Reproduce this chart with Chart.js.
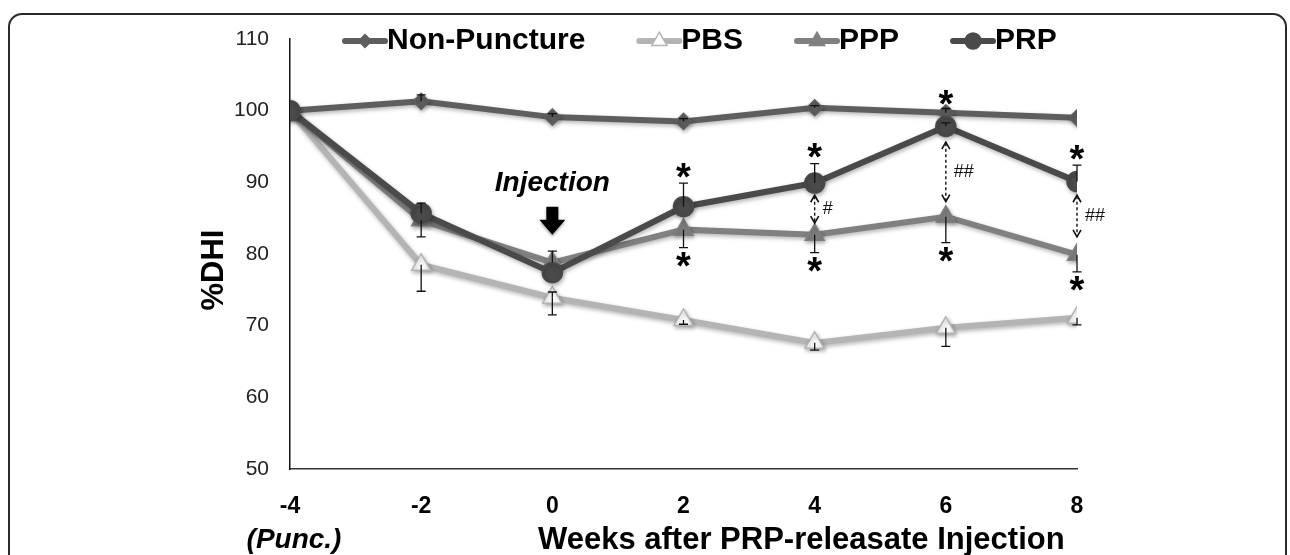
<html>

<head>
    <title>DHI</title>
    <script src="https://cdn.jsdelivr.net/npm/chart.js@4.4.1/dist/chart.umd.min.js"></script>
    <style>
        body { margin: 0; background: #fff; }
        #wrap { position: relative; width: 1290px; height: 555px; overflow: hidden; }
        #frame {
            position: absolute; left: 8px; top: 13px; width: 1279px; height: 620px;
            border: 2px solid #2a2a2a; border-radius: 14px; box-sizing: border-box;
        }
        #plotCanvas { position: absolute; left: 0; top: 0; }
    </style>
</head>

<body>
    <div id="wrap">
        <div id="frame"></div>
        <canvas id="plotCanvas" width="1290" height="555"></canvas>
    </div>
    <script>
        // ========= Data ==============================
        const weeks = [-4, -2, 0, 2, 4, 6, 8]
        const xTicks = [-4, -2, 0, 2, 4, 6, 8]
        const yTicks = [50, 60, 70, 80, 90, 100, 110]

        const nonPuncture = [100, 101.3, 99.1, 98.5, 100.4, 99.7, 99.0]
        const pbs = [100, 78.5, 73.9, 70.8, 67.6, 69.7, 71.1]
        const ppp = [100, 84.7, 78.8, 83.4, 82.7, 85.2, 79.9]
        const prp = [100, 85.7, 77.4, 86.6, 89.9, 97.8, 90.1]

        // error bars as [minus, plus]
        const nonPunctureErr = [[0, 0], [0, 0.9], [0, 0.5], [0, 0.4], [0, 0.3], [0, 0.6], [0, 0]]
        const pbsErr = [[0, 0], [3.7, 0], [2.4, 0.8], [0.6, 0], [1.0, 0], [2.6, 0], [1.0, 0]]
        const pppErr = [[0, 0], [2.3, 0], [0, 1.6], [2.5, 0], [2.5, 0], [3.6, 0], [2.4, 0]]
        const prpErr = [[0, 0], [0, 1.4], [0, 0], [0, 3.3], [0, 2.7], [0, 0.5], [0, 2.3]]

        // significance marks (week, %DHI)
        const starMarks = [
            [2, 91.7], [4, 94.5], [6, 101.8], [8, 94.2],
            [2, 79.2], [4, 78.5], [6, 79.9], [8, 75.9],
        ]
        const arrowWeeks = [4, 6, 8]
        const arrowTop = [88.2, 95.6, 88.2]
        const arrowBottom = [84.3, 87.3, 82.4]
        const arrowLabels = ['#', '##', '##']

        const injectionWeek = 0
        const injectionTextY = 89.9
        const injectionArrow = [86.6, 82.7]

        const seriesNames = ['Non-Puncture', 'PBS', 'PPP', 'PRP']
        const seriesColors = ['#5e5e5e', '#b4b4b4', '#808080', '#4a4a4a']

        const FONT = "'Liberation Sans', Arial, sans-serif"

        const toXY = ys => weeks.map((w, i) => ({ x: w, y: ys[i] }))

        // ========= Drawing helpers ==========

        function drawStar(ctx, x, y) {
            ctx.font = 'bold 38px ' + FONT
            ctx.textAlign = 'center'
            ctx.textBaseline = 'alphabetic'
            const m = ctx.measureText('*')
            const mid = (m.actualBoundingBoxAscent - m.actualBoundingBoxDescent) / 2
            ctx.fillText('*', x, y + mid)
        }

        function drawDashedArrow(ctx, x, y1, y2) {
            ctx.save()
            ctx.strokeStyle = '#111'
            ctx.lineWidth = 1.4
            ctx.setLineDash([3, 2.5])
            ctx.beginPath()
            ctx.moveTo(x, y1 + 1)
            ctx.lineTo(x, y2 - 1)
            ctx.stroke()
            ctx.setLineDash([])
            ctx.lineWidth = 1.6
            ctx.beginPath()
            ctx.moveTo(x - 4, y1 + 7); ctx.lineTo(x, y1); ctx.lineTo(x + 4, y1 + 7)
            ctx.moveTo(x - 4, y2 - 7); ctx.lineTo(x, y2); ctx.lineTo(x + 4, y2 - 7)
            ctx.stroke()
            ctx.restore()
        }

        function drawMarkerPath(ctx, style, r, x, y) {
            if (style === 'circle') {
                ctx.arc(x, y, r, 0, Math.PI * 2)
            } else if (style === 'rectRot') {
                ctx.moveTo(x, y - r); ctx.lineTo(x + r, y); ctx.lineTo(x, y + r); ctx.lineTo(x - r, y)
                ctx.closePath()
            } else {
                ctx.moveTo(x, y - r); ctx.lineTo(x + r * 0.866, y + r / 2); ctx.lineTo(x - r * 0.866, y + r / 2)
                ctx.closePath()
            }
        }

        const annotations = {
            id: 'annotations',
            beforeDatasetsDraw(chart) {
                const ctx = chart.ctx
                ctx.save()
                ctx.shadowColor = 'rgba(0,0,0,0.3)'
                ctx.shadowBlur = 4
                ctx.shadowOffsetX = 1
                ctx.shadowOffsetY = 2
            },
            afterDatasetsDraw(chart) {
                const ctx = chart.ctx
                ctx.restore()
                const xs = chart.scales.x
                const ys = chart.scales.y
                const errs = [nonPunctureErr, pbsErr, pppErr, prpErr]

                // error bars
                ctx.save()
                ctx.strokeStyle = '#111'
                ctx.lineWidth = 1.3
                chart.data.datasets.forEach((ds, i) => {
                    ds.data.forEach((p, j) => {
                        const [minus, plus] = errs[i][j]
                        const px = xs.getPixelForValue(p.x)
                        ;[[minus, -1], [plus, 1]].forEach(([e, s]) => {
                            if (!e) return
                            const y0 = ys.getPixelForValue(p.y)
                            const y1 = ys.getPixelForValue(p.y + s * e)
                            ctx.beginPath()
                            ctx.moveTo(px, y0); ctx.lineTo(px, y1)
                            ctx.moveTo(px - 4.5, y1); ctx.lineTo(px + 4.5, y1)
                            ctx.stroke()
                        })
                    })
                })
                ctx.restore()

                // stars
                ctx.save()
                ctx.fillStyle = '#000'
                starMarks.forEach(([w, v]) => drawStar(ctx, xs.getPixelForValue(w), ys.getPixelForValue(v)))
                ctx.restore()

                // dashed double arrows with # labels
                ctx.save()
                arrowWeeks.forEach((w, i) => {
                    const x = xs.getPixelForValue(w)
                    const y1 = ys.getPixelForValue(arrowTop[i])
                    const y2 = ys.getPixelForValue(arrowBottom[i])
                    drawDashedArrow(ctx, x, y1, y2)
                    ctx.fillStyle = '#111'
                    ctx.font = '18px ' + FONT
                    ctx.textAlign = 'left'
                    ctx.textBaseline = 'middle'
                    ctx.fillText(arrowLabels[i], x + 8, (y1 + y2) / 2)
                })
                ctx.restore()

                // injection label and arrow
                ctx.save()
                const ix = xs.getPixelForValue(injectionWeek)
                ctx.fillStyle = '#000'
                ctx.font = 'italic bold 28px ' + FONT
                ctx.textAlign = 'center'
                ctx.textBaseline = 'middle'
                ctx.fillText('Injection', ix, ys.getPixelForValue(injectionTextY))
                const a0 = ys.getPixelForValue(injectionArrow[0])
                const a1 = ys.getPixelForValue(injectionArrow[1])
                ctx.shadowColor = 'rgba(0,0,0,0.35)'
                ctx.shadowBlur = 3
                ctx.shadowOffsetY = 2
                ctx.beginPath()
                ctx.moveTo(ix - 6, a0)
                ctx.lineTo(ix + 6, a0)
                ctx.lineTo(ix + 6, a0 + 13)
                ctx.lineTo(ix + 13, a0 + 13)
                ctx.lineTo(ix, a1)
                ctx.lineTo(ix - 13, a0 + 13)
                ctx.lineTo(ix - 6, a0 + 13)
                ctx.closePath()
                ctx.fill()
                ctx.restore()
            },
            afterDraw(chart) {
                const ctx = chart.ctx
                ctx.save()
                ctx.fillStyle = '#000'

                // legend: line + marker + bold name
                ctx.font = 'bold 30px ' + FONT
                ctx.textBaseline = 'middle'
                ctx.textAlign = 'left'
                let lx = 342
                const ly = 41
                chart.data.datasets.forEach(ds => {
                    ctx.strokeStyle = ds.borderColor
                    ctx.lineWidth = 6
                    ctx.lineCap = 'round'
                    ctx.beginPath()
                    ctx.moveTo(lx + 3, ly); ctx.lineTo(lx + 43, ly)
                    ctx.stroke()
                    ctx.fillStyle = ds.pointBackgroundColor
                    ctx.strokeStyle = ds.pointBorderColor
                    ctx.lineWidth = ds.pointBorderWidth
                    ctx.beginPath()
                    drawMarkerPath(ctx, ds.pointStyle, ds.pointRadius * 0.8, lx + 23, ly)
                    ctx.fill(); ctx.stroke()
                    ctx.fillStyle = '#000'
                    ctx.fillText(ds.label, lx + 45, ly)
                    lx += 45 + ctx.measureText(ds.label).width + 51
                })

                // axis titles
                ctx.font = 'bold 31px ' + FONT
                ctx.textAlign = 'left'
                ctx.fillText('Weeks after PRP-releasate Injection', 538, 540)
                ctx.font = 'italic bold 28px ' + FONT
                ctx.textAlign = 'center'
                ctx.fillText('(Punc.)', 294, 540)
                ctx.translate(214, 270)
                ctx.rotate(-Math.PI / 2)
                ctx.font = 'bold 31px ' + FONT
                ctx.fillText('%DHI', 0, 0)
                ctx.restore()
            },
        }

        // ========= Chart setup ==========

        function lineSet(i, data, style, radius, fill, border, order) {
            return {
                label: seriesNames[i],
                data: toXY(data),
                borderColor: seriesColors[i],
                borderWidth: 6,
                pointStyle: style,
                pointRadius: radius,
                pointBackgroundColor: fill,
                pointBorderColor: border,
                pointBorderWidth: 1.5,
                order: order,
            }
        }

        const canvas = document.getElementById('plotCanvas')
        const chart = new Chart(canvas, {
            type: 'line',
            data: {
                datasets: [
                    lineSet(0, nonPuncture, 'rectRot', 8, seriesColors[0], seriesColors[0], 1),
                    lineSet(1, pbs, 'triangle', 11, '#ffffff', '#b4b4b4', 3),
                    lineSet(2, ppp, 'triangle', 11, seriesColors[2], seriesColors[2], 2),
                    lineSet(3, prp, 'circle', 10, seriesColors[3], seriesColors[3], 0),
                ],
            },
            options: {
                responsive: false,
                animation: false,
                events: [],
                layout: { padding: { top: 39, right: 213, bottom: 0, left: 0 } },
                plugins: { legend: { display: false }, tooltip: { enabled: false } },
                scales: {
                    x: {
                        type: 'linear',
                        min: -4,
                        max: 8,
                        afterFit: s => { s.height = 86 },
                        afterBuildTicks: s => { s.ticks = xTicks.map(v => ({ value: v })) },
                        grid: { display: false },
                        border: { display: true, color: '#333', width: 1.5 },
                        ticks: {
                            padding: 16,
                            color: '#000',
                            font: { family: FONT, size: 23, weight: 'bold' },
                        },
                    },
                    y: {
                        min: 50,
                        max: 110,
                        afterFit: s => { s.width = 290 },
                        afterBuildTicks: s => { s.ticks = yTicks.map(v => ({ value: v })) },
                        grid: { display: false },
                        border: { display: true, color: '#111', width: 1.5 },
                        ticks: {
                            padding: 13,
                            color: '#222',
                            font: { family: FONT, size: 21 },
                        },
                    },
                },
            },
            plugins: [annotations],
        })
    </script>
</body>

</html>
